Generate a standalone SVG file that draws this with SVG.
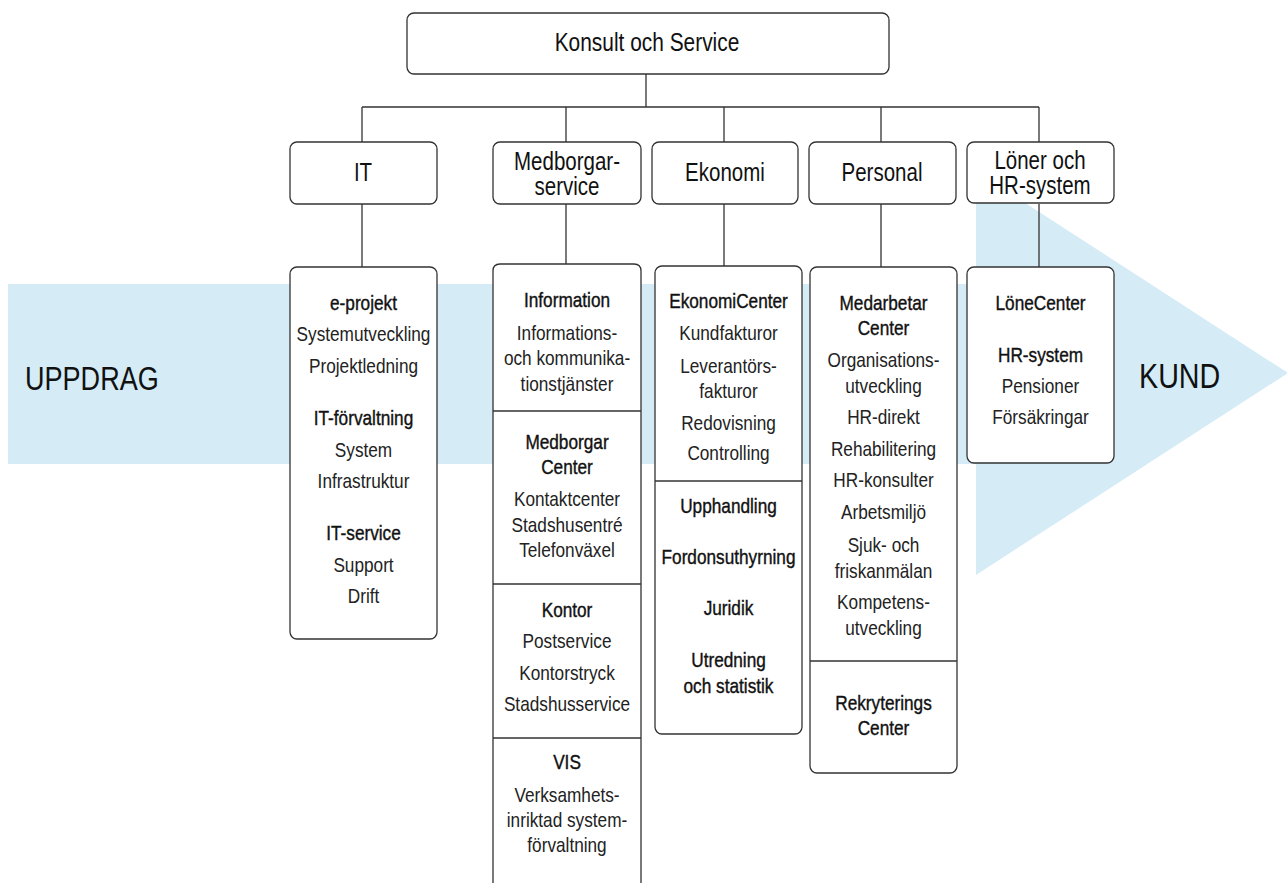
<svg xmlns="http://www.w3.org/2000/svg" width="1287" height="883" viewBox="0 0 1287 883">
  <style>
    .box { fill: #fff; stroke: #333; stroke-width: 1.3; }
    .ln { fill: none; stroke: #333; stroke-width: 1.3; }
    .flow { fill: #d5ecf7; }
    text { font-family: "Liberation Sans", Arial, sans-serif; text-anchor: middle; }
    .top { font-size: 25.5px; fill: #111; }
    .hd { font-size: 25px; fill: #111; }
    .b { font-size: 21px; fill: #222; }
    .h { font-size: 21px; fill: #111; stroke: #111; stroke-width: 0.4; }
    .big { font-size: 34px; fill: #111; text-anchor: start; }
  </style>

  <!-- flow band: UPPDRAG to KUND; labels are condensed horizontally -->
  <g id="flow">
    <rect class="flow" x="8" y="284" width="969" height="180"/>
    <polygon class="flow" points="976,171 1288,373 976,575"/>
    <g transform="translate(25,0) scale(0.82,1)">
      <text class="big" x="0" y="390" style="font-size:33px">UPPDRAG</text>
    </g>
    <g transform="translate(1139,0) scale(0.82,1)">
      <text class="big" x="0" y="388" style="font-size:35px">KUND</text>
    </g>
  </g>

  <!-- connectors -->
  <g id="connectors">
    <path class="ln" d="M646,74 V107 M362,107 H1039 M362,107 V142 M566,107 V142 M724,107 V142 M881,107 V142 M1039,107 V142"/>
    <path class="ln" d="M362,204 V267 M566,204 V264 M724,204 V266 M881,204 V267 M1039,204 V267"/>
  </g>

  <!-- top level -->
  <g id="konsult-och-service">
    <rect class="box" x="407" y="13" width="482" height="61" rx="7"/>
    <g transform="translate(647,0) scale(0.82,1)">
      <text class="top" x="0" y="51">Konsult och Service</text>
    </g>
  </g>

  <!-- department headers -->
  <g id="it">
    <rect class="box" x="290" y="142" width="147" height="62" rx="7"/>
    <g transform="translate(363,0) scale(0.82,1)">
      <text class="hd" x="0" y="181">IT</text>
    </g>
  </g>
  <g id="medborgarservice">
    <rect class="box" x="493" y="142" width="148" height="62" rx="7"/>
    <g transform="translate(567,0) scale(0.82,1)">
      <text class="hd" x="0" y="170">Medborgar-</text>
      <text class="hd" x="0" y="195">service</text>
    </g>
  </g>
  <g id="ekonomi">
    <rect class="box" x="652" y="142" width="146" height="62" rx="7"/>
    <g transform="translate(725,0) scale(0.82,1)">
      <text class="hd" x="0" y="181">Ekonomi</text>
    </g>
  </g>
  <g id="personal">
    <rect class="box" x="809" y="142" width="147" height="62" rx="7"/>
    <g transform="translate(882,0) scale(0.82,1)">
      <text class="hd" x="0" y="181">Personal</text>
    </g>
  </g>
  <g id="loner-hr">
    <rect class="box" x="967" y="142" width="147" height="61" rx="7"/>
    <g transform="translate(1040,0) scale(0.82,1)">
      <text class="hd" x="0" y="169">Löner och</text>
      <text class="hd" x="0" y="194">HR-system</text>
    </g>
  </g>

  <!-- IT units -->
  <g id="it-units">
    <rect class="box" x="290" y="267" width="147" height="372" rx="7"/>
    <g transform="translate(363.5,0) scale(0.82,1)">
      <text class="h" x="0" y="310">e-projekt</text>
      <text class="b" x="0" y="341">Systemutveckling</text>
      <text class="b" x="0" y="373">Projektledning</text>
      <text class="h" x="0" y="425">IT-förvaltning</text>
      <text class="b" x="0" y="457">System</text>
      <text class="b" x="0" y="488">Infrastruktur</text>
      <text class="h" x="0" y="540">IT-service</text>
      <text class="b" x="0" y="572">Support</text>
      <text class="b" x="0" y="603">Drift</text>
    </g>
  </g>

  <!-- Medborgarservice units (column runs past the bottom edge) -->
  <g id="medborgarservice-units">
    <path class="box" d="M493,895 V271 Q493,264 500,264 H634 Q641,264 641,271 V895"/>
    <path class="ln" d="M493,411 H641 M493,584 H641 M493,738 H641"/>
    <g transform="translate(567,0) scale(0.82,1)">
      <text class="h" x="0" y="307">Information</text>
      <text class="b" x="0" y="340">Informations-</text>
      <text class="b" x="0" y="365">och kommunika-</text>
      <text class="b" x="0" y="391">tionstjänster</text>
      <text class="h" x="0" y="449">Medborgar</text>
      <text class="h" x="0" y="474">Center</text>
      <text class="b" x="0" y="506">Kontaktcenter</text>
      <text class="b" x="0" y="532">Stadshusentré</text>
      <text class="b" x="0" y="557">Telefonväxel</text>
      <text class="h" x="0" y="617">Kontor</text>
      <text class="b" x="0" y="648">Postservice</text>
      <text class="b" x="0" y="680">Kontorstryck</text>
      <text class="b" x="0" y="711">Stadshusservice</text>
      <text class="h" x="0" y="769">VIS</text>
      <text class="b" x="0" y="802">Verksamhets-</text>
      <text class="b" x="0" y="827">inriktad system-</text>
      <text class="b" x="0" y="852">förvaltning</text>
    </g>
  </g>

  <!-- Ekonomi units -->
  <g id="ekonomi-units">
    <rect class="box" x="655" y="266" width="147" height="468" rx="7"/>
    <path class="ln" d="M655,481 H802"/>
    <g transform="translate(728.5,0) scale(0.82,1)">
      <text class="h" x="0" y="308">EkonomiCenter</text>
      <text class="b" x="0" y="340">Kundfakturor</text>
      <text class="b" x="0" y="373">Leverantörs-</text>
      <text class="b" x="0" y="398">fakturor</text>
      <text class="b" x="0" y="430">Redovisning</text>
      <text class="b" x="0" y="460">Controlling</text>
      <text class="h" x="0" y="513">Upphandling</text>
      <text class="h" x="0" y="564">Fordonsuthyrning</text>
      <text class="h" x="0" y="615">Juridik</text>
      <text class="h" x="0" y="667">Utredning</text>
      <text class="h" x="0" y="693">och statistik</text>
    </g>
  </g>

  <!-- Personal units -->
  <g id="personal-units">
    <rect class="box" x="810" y="267" width="147" height="506" rx="7"/>
    <path class="ln" d="M810,661 H957"/>
    <g transform="translate(883.5,0) scale(0.82,1)">
      <text class="h" x="0" y="310">Medarbetar</text>
      <text class="h" x="0" y="335">Center</text>
      <text class="b" x="0" y="367">Organisations-</text>
      <text class="b" x="0" y="393">utveckling</text>
      <text class="b" x="0" y="424">HR-direkt</text>
      <text class="b" x="0" y="456">Rehabilitering</text>
      <text class="b" x="0" y="487">HR-konsulter</text>
      <text class="b" x="0" y="519">Arbetsmiljö</text>
      <text class="b" x="0" y="552">Sjuk- och</text>
      <text class="b" x="0" y="578">friskanmälan</text>
      <text class="b" x="0" y="609">Kompetens-</text>
      <text class="b" x="0" y="635">utveckling</text>
      <text class="h" x="0" y="710">Rekryterings</text>
      <text class="h" x="0" y="735">Center</text>
    </g>
  </g>

  <!-- Löner och HR-system units -->
  <g id="loner-hr-units">
    <rect class="box" x="967" y="267" width="147" height="196" rx="7"/>
    <g transform="translate(1040.5,0) scale(0.82,1)">
      <text class="h" x="0" y="310">LöneCenter</text>
      <text class="h" x="0" y="362">HR-system</text>
      <text class="b" x="0" y="393">Pensioner</text>
      <text class="b" x="0" y="424">Försäkringar</text>
    </g>
  </g>
</svg>
